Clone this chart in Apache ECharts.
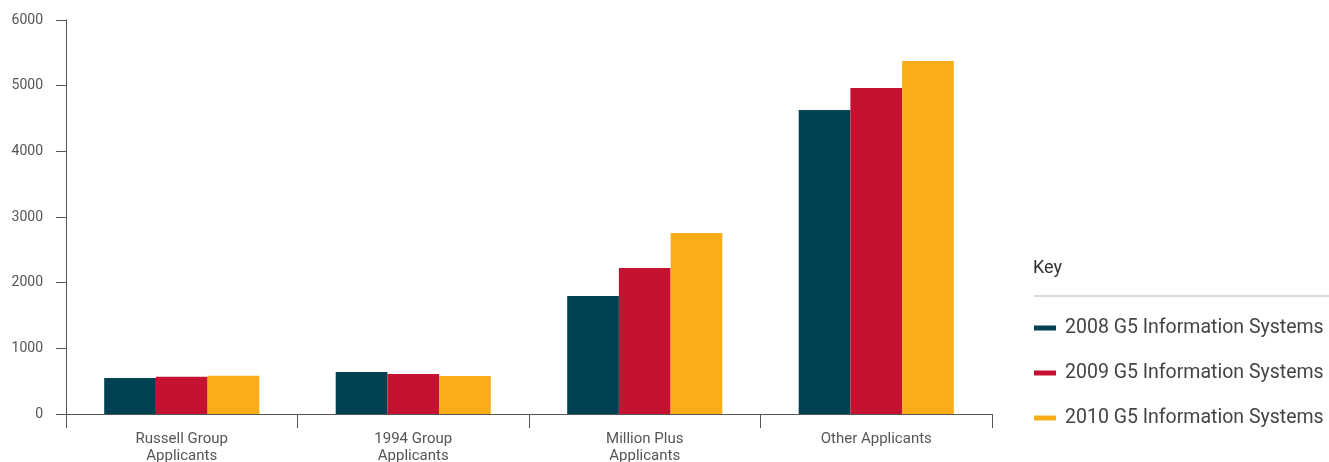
<!DOCTYPE html>
<html>
<head>
<meta charset="utf-8">
<script src="https://cdn.jsdelivr.net/npm/echarts@6/dist/echarts.min.js"></script>
<style>
  html, body { margin: 0; padding: 0; background: #fff; }
  #chart { width: 1329px; height: 462px; }
</style>
</head>
<body>
<div id="chart"></div>
<script>
  // 数据
  const categories = ['Russell Group\nApplicants', '1994 Group\nApplicants', 'Million Plus\nApplicants', 'Other Applicants'];
  const seriesNames = ['2008 G5 Information Systems', '2009 G5 Information Systems', '2010 G5 Information Systems'];
  const values2008 = [548, 640, 1797, 4629];
  const values2009 = [566, 609, 2223, 4964];
  const values2010 = [582, 579, 2756, 5376];
  const yTicks = [0, 1000, 2000, 3000, 4000, 5000, 6000];

  // 色板
  const C = {
    teal: '#024152',
    red: '#c41230',
    amber: '#f9ae19',
    axis: '#555555',
    text: '#555555',
    legendText: '#444444',
    rule: '#b3b3b3',
  };
  const FONT = 'Roboto, "Liberation Sans", sans-serif';

  const chart = echarts.init(document.getElementById('chart'), null, { renderer: 'canvas' });

  const bar = (name, data, color) => ({
    name, type: 'bar', data,
    barGap: '0%', barCategoryGap: '33%',
    itemStyle: { color },
  });

  chart.setOption({
    backgroundColor: '#fff',
    animation: false,
    textStyle: { fontFamily: FONT },
    grid: { left: 66, right: 337, top: 20, bottom: 48, outerBoundsMode: 'none' },
    legend: {
      orient: 'vertical',
      left: 1034, top: 318, padding: 0,
      itemWidth: 22, itemHeight: 5, itemGap: 25,
      icon: 'rect',
      data: seriesNames,
      textStyle: { color: C.legendText, fontSize: 19.5, fontFamily: FONT, padding: [0, 0, 0, 4] },
    },
    graphic: [
      { type: 'text', left: 1033, top: 259, style: { text: 'Key', fontSize: 18, fill: '#333', fontFamily: FONT } },
      { type: 'line', shape: { x1: 1034, y1: 296, x2: 1329, y2: 296 }, style: { stroke: C.rule, lineWidth: 1 } },
    ],
    xAxis: {
      type: 'category',
      data: categories,
      boundaryGap: true,
      axisLine: { lineStyle: { color: C.axis, width: 1 } },
      axisTick: { show: true, length: 14, lineStyle: { color: C.axis } },
      axisLabel: { color: C.text, fontSize: 15, lineHeight: 17, margin: 17, fontFamily: FONT, interval: 0 },
    },
    yAxis: {
      type: 'value',
      min: yTicks[0], max: yTicks[yTicks.length - 1], interval: 1000,
      splitLine: { show: false },
      axisLine: { show: true, lineStyle: { color: C.axis, width: 1 } },
      axisTick: { show: true, length: 10, lineStyle: { color: C.axis } },
      axisLabel: { color: C.text, fontSize: 14, margin: 23, fontFamily: FONT, formatter: v => String(v) },
    },
    series: [
      bar(seriesNames[0], values2008, C.teal),
      bar(seriesNames[1], values2009, C.red),
      bar(seriesNames[2], values2010, C.amber),
    ],
  });
</script>
</body>
</html>
